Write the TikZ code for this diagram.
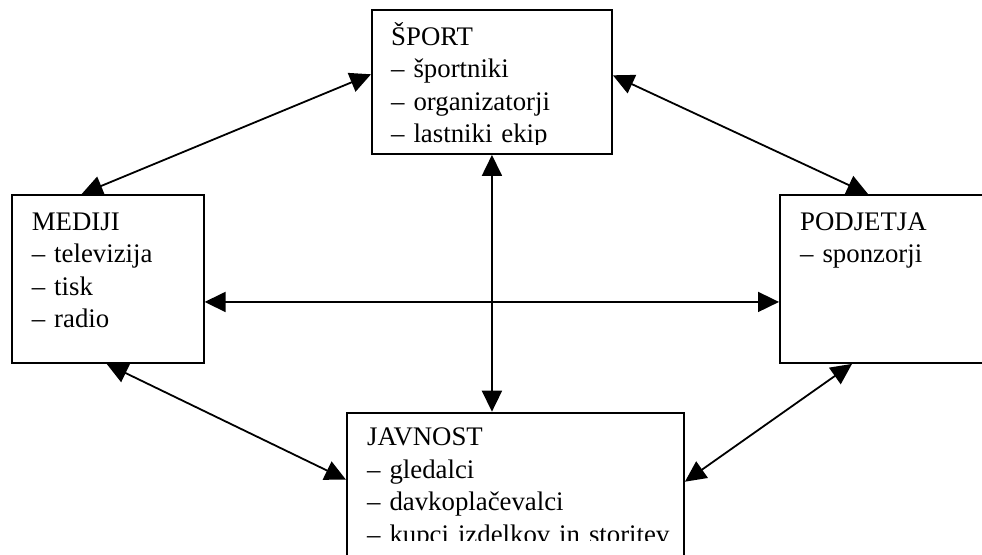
\documentclass[tikz,border=0pt]{standalone}
\usepackage{fontspec}
\setmainfont{Liberation Serif}
\usetikzlibrary{arrows.meta}

\tikzset{
    box/.style={draw, line width=1.9pt, inner sep=0pt, anchor=north west},
    boxtext/.style={anchor=base west, inner sep=0pt, align=left, text width=330pt,
        font=\fontsize{26.8}{32.5}\selectfont},
    link/.style={{Triangle[length=21pt,width=20pt]}-{Triangle[length=21pt,width=20pt]},
        line width=1.8pt},
}

\begin{document}
\begin{tikzpicture}[x=1pt, y=-1pt]
    \clip (0,0) rectangle (982,554);

    % boxes
    \node (sport) [box, minimum width=240pt, minimum height=143.7pt] at (371,9.3) {};
    \node (mediji) [box, minimum width=192pt, minimum height=168pt] at (10.7,194) {};
    \node (podjetja) [box, minimum width=213pt, minimum height=168pt] at (779,194) {};
    \node (javnost) [box, minimum width=337pt, minimum height=170pt] at (346,411.7) {};

    % texts, cut at the inner edge of each box
    \begin{scope}
        \clip (sport.north west) rectangle ([yshift=10pt]sport.south east);
        \node (sporttext) [boxtext] at ([shift={(20pt,-36pt)}]sport.north west)
            {ŠPORT\\– športniki\\– organizatorji\\– lastniki ekip};
    \end{scope}
    \node (medijitext) [boxtext] at ([shift={(21pt,-36pt)}]mediji.north west)
        {MEDIJI\\– televizija\\– tisk\\– radio};
    \node (podjetjatext) [boxtext] at ([shift={(21pt,-36pt)}]podjetja.north west)
        {PODJETJA\\– sponzorji};
    \begin{scope}
        \clip (javnost.north west) rectangle ([yshift=-129pt]javnost.north east);
        \node (javnosttext) [boxtext] at ([shift={(21pt,-34pt)}]javnost.north west)
            {JAVNOST\\– gledalci\\– davkoplačevalci\\– kupci izdelkov in storitev};
    \end{scope}

    % links
    \draw[link] ([yshift=-65pt]sport.north west) -- ([xshift=71pt]mediji.north west);
    \draw[link] ([yshift=-66pt]sport.north east) -- ([xshift=89pt]podjetja.north west);
    \draw[link] (sport.south) -- (sport.south |- javnost.north);
    \draw[link] ([yshift=-23pt]mediji.east) -- ([yshift=-23pt]podjetja.west);
    \draw[link] ([xshift=96pt]mediji.south west) -- ([yshift=-68pt]javnost.north west);
    \draw[link] ([xshift=73pt]podjetja.south west) -- ([yshift=-70pt]javnost.north east);
\end{tikzpicture}
\end{document}
